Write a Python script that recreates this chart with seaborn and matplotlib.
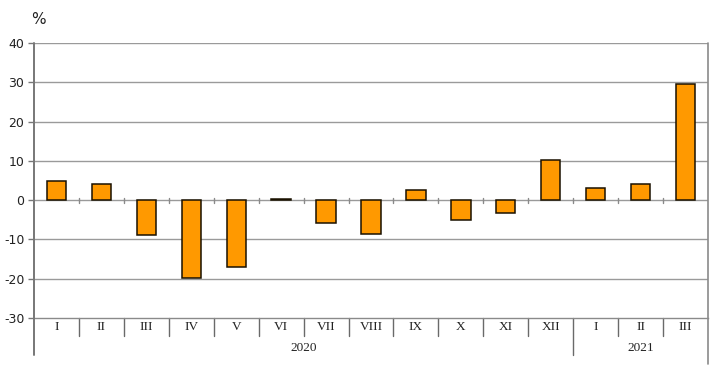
import pandas as pd
import matplotlib
matplotlib.use('Agg')
import matplotlib.pyplot as plt
import seaborn as sns

# Monthly values, 2020 - 2021 (%)
months = ['I', 'II', 'III', 'IV', 'V', 'VI', 'VII', 'VIII', 'IX', 'X', 'XI', 'XII',
          'I', 'II', 'III']
years = ['2020'] * 12 + ['2021'] * 3
values = [4.8, 4.2, -8.9, -19.7, -16.9, 0.2, -5.8, -8.5, 2.5, -5.0, -3.2, 10.3,
          3.1, 4.2, 29.5]
yticks = [-30, -20, -10, 0, 10, 20, 30, 40]

df = pd.DataFrame({'month': months, 'year': years, 'value': values})
df['key'] = df['month'] + '-' + df['year']

sns.set_style('white')
fig = plt.figure(figsize=(7.16, 3.67), dpi=100)
ax = fig.add_axes([34 / 716, 49 / 367, 674 / 716, 275 / 367])

sns.barplot(x='key', y='value', data=df, order=list(df['key']), color='#FF9900',
            saturation=1, width=0.43, edgecolor='#1a1100', linewidth=1.1, ax=ax, zorder=3)

ax.set_ylim(-30, 40)
ax.set_xlim(-0.5, len(df) - 0.5)
ax.set_yticks(yticks)
ax.set_yticklabels([str(t) for t in yticks], fontsize=9, color='#222222',
                   family='DejaVu Sans')
ax.tick_params(axis='y', length=4, width=1, color='#777777', left=True, pad=3)
ax.set_xticks([])
ax.set_xlabel('')
ax.set_ylabel('')

# gridlines
for t in yticks[1:]:
    ax.axhline(t, color='#9a9a9a', linewidth=1, zorder=1)

# spines
ax.spines['top'].set_visible(False)
ax.spines['bottom'].set_color('#8a8a8a')
ax.spines['bottom'].set_linewidth(1)
ax.spines['left'].set_visible(False)
ax.spines['right'].set_visible(False)

trans = ax.get_xaxis_transform()
# left axis, extending below
ax.plot([-0.5, -0.5], [1, -0.135], color='#777777', lw=1.4, transform=trans, clip_on=False, zorder=4)
# right border
ax.plot([len(df) - 0.5] * 2, [1, -0.167], color='#8a8a8a', lw=1.2, transform=trans, clip_on=False, zorder=4)

# small ticks on the zero line and separators under the axis
n = len(df)
for i in range(1, n):
    b = i - 0.5
    ax.plot([b, b], [-0.6, 0.6], color='#8a8a8a', lw=1, zorder=2)
    low = -0.135 if i == 12 else -0.066
    ax.plot([b, b], [0, low], color='#6a6a6a', lw=1, transform=trans, clip_on=False)

# month labels
for i, m in enumerate(months):
    ax.text(i, -0.033, m, transform=trans, ha='center', va='center',
            fontsize=9.5, family='Liberation Serif', color='#222222')

# year labels
ax.text(5.5, -0.109, '2020', transform=trans, ha='center', va='center',
        fontsize=9.5, family='Liberation Serif', color='#222222')
ax.text(13, -0.109, '2021', transform=trans, ha='center', va='center',
        fontsize=9.5, family='Liberation Serif', color='#222222')

fig.text(38 / 716, 1 - 20 / 367, '%', ha='center', va='center', fontsize=11,
         family='DejaVu Sans', color='#222222')

fig.savefig('out.png', dpi=100)
